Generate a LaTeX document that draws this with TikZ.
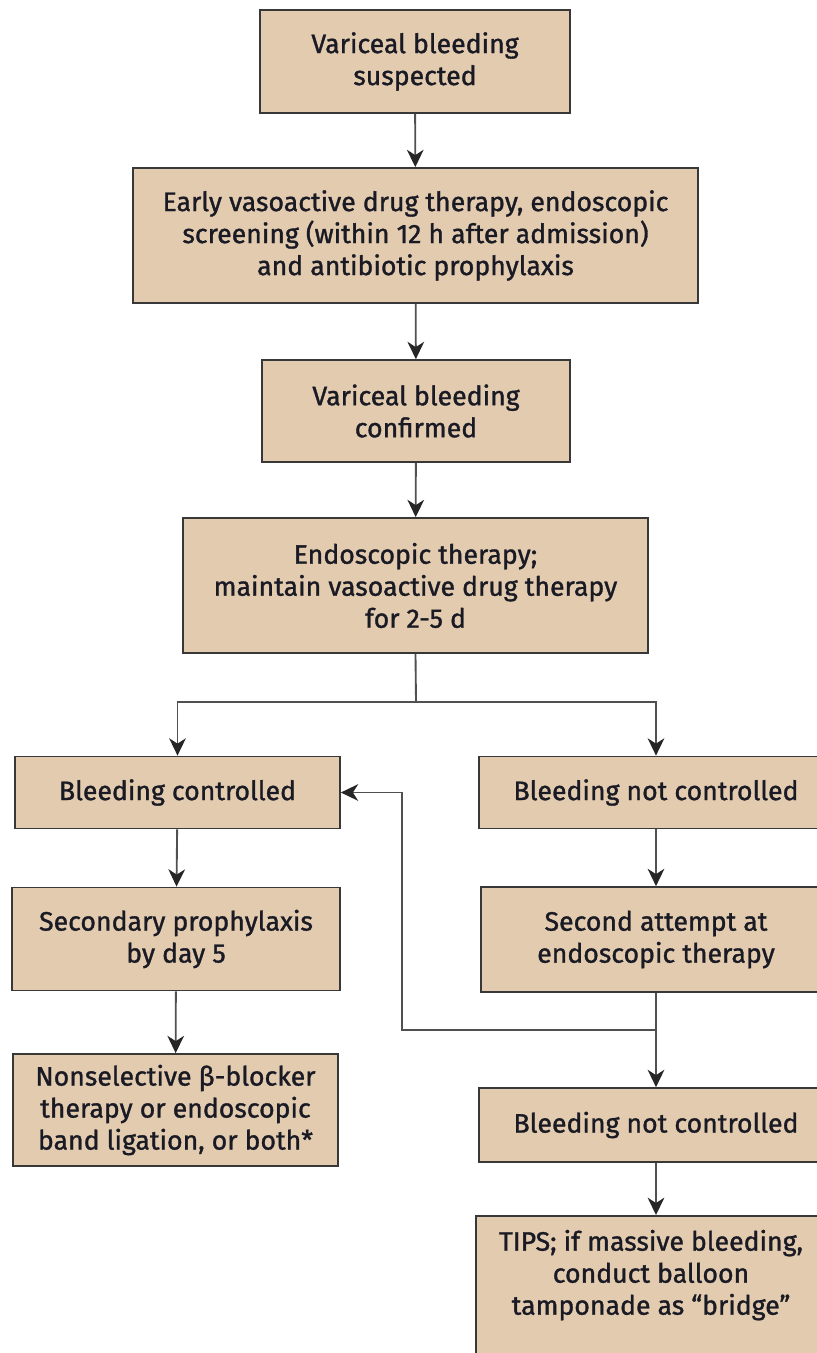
\documentclass[tikz,border=0pt]{standalone}
\usepackage{fontspec}
\setmainfont{Fira Sans}
\newfontfamily\boxfont{Fira Sans}[FakeBold=1.2]
\usetikzlibrary{arrows.meta}

\definecolor{boxfill}{HTML}{E2CBAF}
\definecolor{boxline}{HTML}{383838}
\definecolor{linegray}{HTML}{505050}
\definecolor{txt}{HTML}{1A1A24}

\tikzset{
  stepbox/.style={draw=boxline, line width=1.3pt, fill=boxfill, text=txt,
    align=center, inner sep=0pt, font=\boxfont\fontsize{20pt}{24pt}\selectfont},
  arr/.style={draw=linegray, line width=1.4pt,
    -{Stealth[length=13pt, width=12.5pt, inset=4pt, color=black!85]}}
}

\begin{document}
\begin{tikzpicture}[x=0.75pt, y=-0.75pt]

\path[use as bounding box, clip] (0,0) rectangle (817,1353);

%% ── Main column ────────────────────
\node[stepbox, minimum width=310*0.75pt, minimum height=103*0.75pt] (susp) at (415,61.5)
  {Variceal bleeding\\suspected};
\node[stepbox, minimum width=565*0.75pt, minimum height=135*0.75pt] (early) at (415.5,235.5)
  {Early vasoactive drug therapy, endoscopic\\screening (within 12 h after admission)\\and antibiotic prophylaxis};
\node[stepbox, minimum width=308*0.75pt, minimum height=102*0.75pt] (conf) at (416,411)
  {Variceal bleeding\\confirmed};
\node[stepbox, minimum width=465*0.75pt, minimum height=135*0.75pt] (endo) at (415.5,585.5)
  {Endoscopic therapy;\\maintain vasoactive drug therapy\\for 2-5 d};

%% ── Left branch ────────────────────
\node[stepbox, minimum width=325*0.75pt, minimum height=72*0.75pt] (ctrl) at (177.5,792.5)
  {Bleeding controlled};
\node[stepbox, minimum width=328*0.75pt, minimum height=103*0.75pt] (sec) at (176,939)
  {Secondary prophylaxis\\by day 5};
\node[stepbox, minimum width=325*0.75pt, minimum height=112*0.75pt] (nsbb) at (175.5,1110)
  {Nonselective β-blocker\\therapy or endoscopic\\band ligation, or both*};

%% ── Right branch ───────────────────
\node[stepbox, minimum width=354*0.75pt, minimum height=72*0.75pt] (nctrl) at (656,792.5)
  {Bleeding not controlled};
\node[stepbox, minimum width=350*0.75pt, minimum height=105*0.75pt] (again) at (656,939.5)
  {Second attempt at\\endoscopic therapy};
\node[stepbox, minimum width=354*0.75pt, minimum height=74*0.75pt] (nctrlb) at (656,1125)
  {Bleeding not controlled};
\node[stepbox, minimum width=350*0.75pt, anchor=north, inner ysep=14*0.75pt,
  text depth=80pt] (tips) at (651,1215)
  {TIPS; if massive bleeding,\\conduct balloon\\tamponade as “bridge”};

%% ── Connectors ─────────────────────
\draw[arr] (susp) -- (early);
\draw[arr] (early) -- (conf);
\draw[arr] (conf) -- (endo);

\coordinate (split) at (416,702);
\draw[draw=linegray, line width=1.4pt] (endo.south) -- (split);
\draw[arr] (split) -| (ctrl.north);
\draw[arr] (split) -| (nctrl.north);

\draw[arr] (ctrl) -- (sec);
\draw[arr] (sec) -- (nsbb);
\draw[arr] (nctrl) -- (again);
\draw[arr] (again) -- (nctrlb);
\draw[arr] (nctrlb.south) -- (nctrlb.south |- tips.north);

% back to "Bleeding controlled"
\coordinate (back) at (656,1030);
\draw[arr] (back) -- (402,1030) |- (ctrl.east);

\end{tikzpicture}
\end{document}
